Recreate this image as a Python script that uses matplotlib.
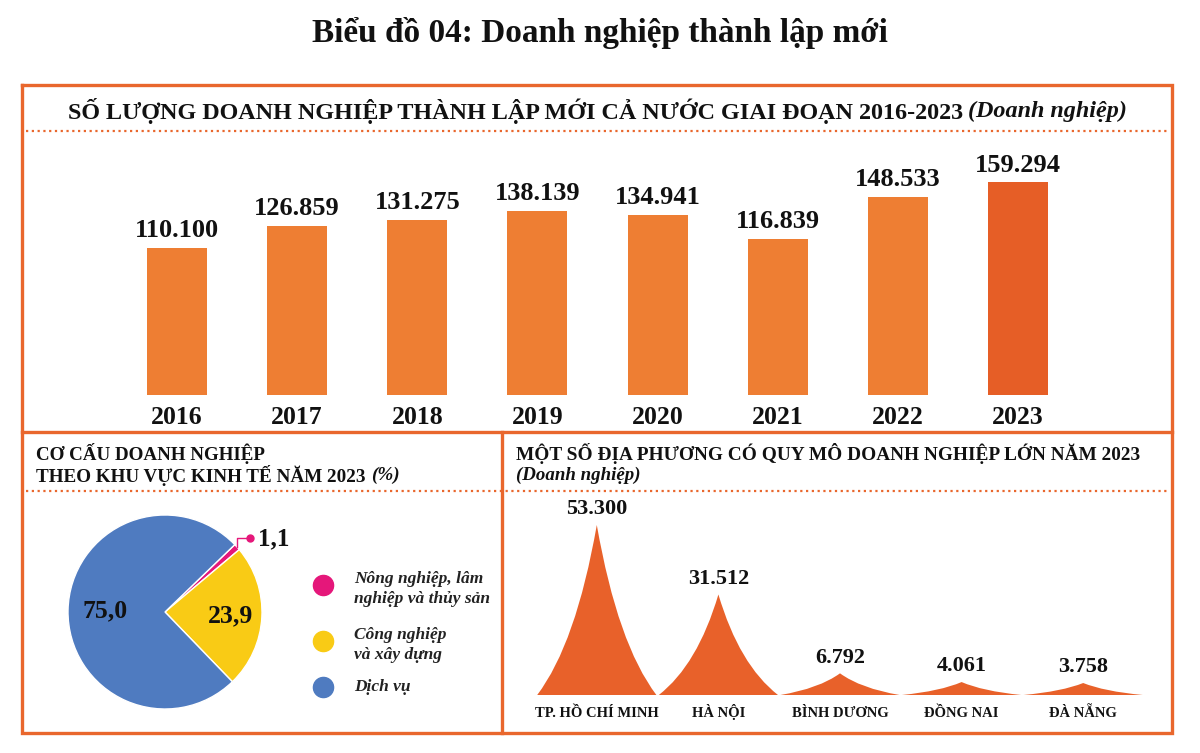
import matplotlib
matplotlib.use('Agg')
import matplotlib.pyplot as plt
from matplotlib.patches import PathPatch
from matplotlib.path import Path
import numpy as np

# ---------------- data ----------------
years = ['2016', '2017', '2018', '2019', '2020', '2021', '2022', '2023']
new_firms = [110100, 126859, 131275, 138139, 134941, 116839, 148533, 159294]

sectors = ['Nông nghiệp, lâm\nnghiệp và thủy sản', 'Công nghiệp\nvà xây dựng', 'Dịch vụ']
sector_share = [1.1, 23.9, 75.0]

provinces = ['TP. HỒ CHÍ MINH', 'HÀ NỘI', 'BÌNH DƯƠNG', 'ĐỒNG NAI', 'ĐÀ NẴNG']
province_firms = [53300, 31512, 6792, 4061, 3758]

# ---------------- style ----------------
ORANGE = '#E9672D'
BAR = '#EE7E33'
BAR_LAST = '#E65E26'
SPIKE = '#E8612A'
SECTOR_COLORS = ['#E5177A', '#F9CB15', '#4F7BC0']
SERIF = ['Liberation Serif', 'DejaVu Serif']
INK = '#111111'


def fmt_int(v):
    return f'{v:,}'.replace(',', '.')


def fmt_pct(v):
    return f'{v:.1f}'.replace('.', ',')


W, H = 1200, 753
fig = plt.figure(figsize=(12, 7.53), dpi=100)
fig.patch.set_facecolor('white')
ax0 = fig.add_axes([0, 0, 1, 1])
ax0.set_xlim(0, W)
ax0.set_ylim(H, 0)
ax0.axis('off')
renderer = fig.canvas.get_renderer()


def px_axes(l, t, r, b):
    return fig.add_axes([l / W, 1 - b / H, (r - l) / W, (b - t) / H])


def fit_line(parts, x, y, width, ha='left', weight='bold', color=INK):
    texts = []
    for s, st in parts:
        t = ax0.text(0, y, s, fontsize=10, family=SERIF, weight=weight, style=st,
                     va='center', ha='left', color=color)
        texts.append(t)
    widths = [t.get_window_extent(renderer).width for t in texts]
    gap = 3.5
    total = sum(widths) + gap * (len(texts) - 1)
    k = width / total
    x0 = x if ha == 'left' else x - width / 2
    cur = x0
    for t, w in zip(texts, widths):
        t.set_fontsize(10 * k)
        t.set_x(cur)
        cur += (w + gap) * k
    return texts


# ---------------- main title ----------------
fit_line([('Biểu đồ 04: Doanh nghiệp thành lập mới', 'normal')], 600, 33, 577, ha='center')

# ---------------- frames ----------------
lw = 2.4
L, R, T, B, MID, VX = 22, 1172, 85, 733, 432, 502
ax0.plot([L, R, R, L, L], [T, T, B, B, T], color=ORANGE, lw=lw, solid_joinstyle='miter')
ax0.plot([L, R], [MID, MID], color=ORANGE, lw=lw)
ax0.plot([VX, VX], [MID, B], color=ORANGE, lw=lw)
for yy in (131, 491):
    ax0.plot([L + 4, R - 3], [yy, yy], color=ORANGE, lw=1.6, linestyle=(0, (1, 1.6)))

# ---------------- section titles ----------------
fit_line([('SỐ LƯỢNG DOANH NGHIỆP THÀNH LẬP MỚI CẢ NƯỚC GIAI ĐOẠN 2016-2023', 'normal'),
          ('(Doanh nghiệp)', 'italic')], 68, 111, 1060)
fit_line([('CƠ CẤU DOANH NGHIỆP', 'normal')], 36, 453, 229)
fit_line([('THEO KHU VỰC KINH TẾ NĂM 2023', 'normal'), ('(%)', 'italic')], 36, 475, 364)
fit_line([('MỘT SỐ ĐỊA PHƯƠNG CÓ QUY MÔ DOANH NGHIỆP LỚN NĂM 2023', 'normal')], 516, 453, 620)
fit_line([('(Doanh nghiệp)', 'italic')], 516, 475, 125)

# ---------------- bar chart ----------------
axb = px_axes(117, 140, 1078, 395)
x = np.arange(len(years))
colors = [BAR] * (len(years) - 1) + [BAR_LAST]
axb.bar(x, new_firms, width=0.5, color=colors)
axb.set_xlim(-0.5, len(years) - 0.5)
axb.set_ylim(0, 191000)
for s in axb.spines.values():
    s.set_visible(False)
axb.set_yticks([])
axb.set_xticks(x, years)
axb.tick_params(axis='x', length=0, pad=8)
for lab in axb.get_xticklabels():
    lab.set_fontfamily(SERIF)
    lab.set_fontweight('bold')
    lab.set_fontsize(18.5)
    lab.set_color(INK)
axb.patch.set_alpha(0)
for i, v in enumerate(new_firms):
    axb.annotate(fmt_int(v), (i, v), xytext=(0, 4), textcoords='offset points',
                 ha='center', va='bottom', fontsize=19, fontweight='bold',
                 family=SERIF, color=INK)

# ---------------- pie chart ----------------
axp = px_axes(68, 515, 262, 709)
start = 44
axp.pie(sector_share, colors=SECTOR_COLORS, startangle=start, counterclock=False,
        radius=1, wedgeprops=dict(edgecolor='white', linewidth=1))
axp.set_xlim(-1, 1)
axp.set_ylim(-1, 1)
axp.set_aspect('equal')
total = sum(sector_share)
cum = 0
mids = []
for v in sector_share:
    mid = start - (cum + v / 2) / total * 360
    mids.append(np.deg2rad(mid))
    cum += v
for i, r in ((1, 0.68), (2, 0.62)):
    axp.text(r * np.cos(mids[i]), r * np.sin(mids[i]), fmt_pct(sector_share[i]),
             ha='center', va='center', fontsize=18.5, fontweight='bold', family=SERIF, color=INK)
a = mids[0]
px0, py0 = 1.0 * np.cos(a), 1.0 * np.sin(a)
py1 = py0 + 0.09
px1 = px0 + 0.13
axp.plot([px0, px0, px1], [py0, py1, py1], color=SECTOR_COLORS[0], lw=1, clip_on=False)
axp.plot([px1], [py1], 'o', color=SECTOR_COLORS[0], ms=5, clip_on=False)
axp.text(px1 + 0.09, py1, fmt_pct(sector_share[0]), ha='left', va='center',
         fontsize=18, fontweight='bold', family=SERIF, color=INK, clip_on=False)

# legend
leg_y = [585, 641, 687]
for name, c, yy in zip(sectors, SECTOR_COLORS, leg_y):
    ax0.plot([323], [yy], 'o', color=c, ms=14.5)
    ax0.text(354, yy + (4 if '\n' in name else 0), name, ha='left', va='center', fontsize=12.5,
             style='italic', weight='bold', family=SERIF, color='#222222', linespacing=1.3)

# ---------------- spike chart ----------------
axs = px_axes(536, 500, 1144, 695)
axs.set_xlim(-0.5, len(provinces) - 0.5)
axs.set_ylim(0, 53300 * 195 / 170)
hw = 0.49
cx, cy = 0.35, 0.3
for i, v in enumerate(province_firms):
    verts = [(i - hw, 0), (i - hw * cx, v * cy), (i, v),
             (i + hw * cx, v * cy), (i + hw, 0), (i - hw, 0)]
    codes = [Path.MOVETO, Path.CURVE3, Path.CURVE3, Path.CURVE3, Path.CURVE3, Path.CLOSEPOLY]
    axs.add_patch(PathPatch(Path(verts, codes), facecolor=SPIKE, edgecolor='none'))
    axs.annotate(fmt_int(v), (i, v), xytext=(0, 4), textcoords='offset points',
                 ha='center', va='bottom', fontsize=16, fontweight='bold',
                 family=SERIF, color=INK)
for s in axs.spines.values():
    s.set_visible(False)
axs.set_yticks([])
axs.set_xticks(range(len(provinces)), provinces)
axs.tick_params(axis='x', length=0, pad=16)
for lab in axs.get_xticklabels():
    lab.set_fontfamily(SERIF)
    lab.set_fontweight('bold')
    lab.set_fontsize(10.5)
    lab.set_color(INK)
    lab.set_verticalalignment('baseline')
axs.patch.set_alpha(0)

fig.savefig('out.png', dpi=100, facecolor='white')
